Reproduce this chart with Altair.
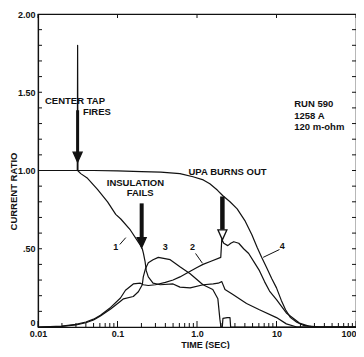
import altair as alt
import pandas as pd

# ---------------- data ----------------
C4_T = [0.01, 0.0312, 0.0315, 0.0318, 0.05, 0.1, 0.2, 0.35, 0.61, 0.89, 1.2, 1.45, 1.8, 2.1, 2.6, 3.2,
        4.0, 4.9, 5.7, 6.5, 7.5, 8.7, 10, 11.5, 13, 15, 18, 22, 30, 100]
C4_V = [1.0, 1.0, 1.80, 1.0, 1.0, 0.997, 0.993, 0.99, 0.98, 0.96, 0.94, 0.915, 0.875, 0.84, 0.80, 0.755,
        0.68, 0.59, 0.51, 0.445, 0.38, 0.31, 0.25, 0.17, 0.11, 0.06, 0.03, 0.01, 0.0, 0.0]

C1_T = [0.0315, 0.0345, 0.042, 0.056, 0.075, 0.095, 0.11, 0.145, 0.19, 0.205, 0.212, 0.222, 0.23, 0.244,
        0.28, 0.345, 0.5, 0.61, 0.82, 1.2, 1.6, 1.85, 2.05, 2.25, 2.8, 4.2, 6.1, 10, 13.3, 18, 100]
C1_V = [1.0, 0.98, 0.95, 0.88, 0.80, 0.72, 0.69, 0.62, 0.53, 0.50, 0.47, 0.42, 0.36, 0.32,
        0.28, 0.27, 0.275, 0.255, 0.25, 0.27, 0.275, 0.28, 0.29, 0.24, 0.21, 0.15, 0.11, 0.06, 0.02, 0.0, 0.0]

C3_T = [0.01, 0.02, 0.03, 0.04, 0.05, 0.061, 0.082, 0.109, 0.119, 0.158, 0.183, 0.205, 0.211, 0.224, 0.244,
        0.28, 0.326, 0.46, 0.61, 0.82, 1.19, 1.58, 1.83, 1.94, 2.0, 2.08, 2.12, 2.4, 2.6, 2.65, 100]
C3_V = [0.0, 0.004, 0.013, 0.027, 0.045, 0.07, 0.115, 0.165, 0.18, 0.195, 0.225, 0.27, 0.32, 0.37, 0.41,
        0.43, 0.445, 0.43, 0.385, 0.34, 0.27, 0.24, 0.18, 0.05, 0.0, 0.0, 0.055, 0.06, 0.06, 0.0, 0.0]

C2_T = [0.01, 0.02, 0.03, 0.04, 0.05, 0.061, 0.082, 0.109, 0.126, 0.158, 0.194, 0.211, 0.244, 0.3, 0.4, 0.5,
        0.61, 0.75, 1.0, 1.19, 1.5, 1.99, 2.05, 2.17, 2.44, 2.66, 2.9, 3.35, 3.86, 4.47, 5.3, 6.1, 7.07,
        8.17, 10, 13.3, 19.4, 26, 35, 100]
C2_V = [0.0, 0.005, 0.017, 0.032, 0.05, 0.075, 0.125, 0.185, 0.235, 0.275, 0.28, 0.27, 0.265, 0.27, 0.285, 0.30,
        0.32, 0.345, 0.38, 0.40, 0.42, 0.445, 0.56, 0.535, 0.52, 0.535, 0.545, 0.535, 0.50, 0.47, 0.41, 0.36, 0.29,
        0.23, 0.175, 0.09, 0.025, 0.005, 0.0, 0.0]

X_TICKS = [0.01, 0.1, 1, 10, 100]
X_TICK_LABELS = ["0.01", "0.1", "1.0", "10", "100"]
Y_TICKS = [0, 0.5, 1.0, 1.5, 2.0]
Y_TICK_LABELS = ["0", ".50", "1.00", "1.50", "2.00"]
X_MINOR = [k * 10.0 ** e for e in range(-2, 2) for k in range(2, 10)]
Y_MINOR = [i / 10 for i in range(1, 20)]

# annotations (left-aligned texts)
NOTE_TEXT = ["CENTER TAP", "FIRES", "INSULATION", "FAILS", "UPA BURNS OUT", "RUN 590", "1258 A", "120 m-ohm"]
NOTE_T = [0.01224, 0.0367, 0.0733, 0.1306, 0.782, 16.7, 16.7, 16.7]
NOTE_V = [1.442, 1.373, 0.922, 0.859, 0.9875, 1.426, 1.351, 1.276]

# curve labels (centered)
LBL_TEXT = ["1", "3", "2", "4"]
LBL_T = [0.095, 0.40, 0.878, 11.8]
LBL_V = [0.508, 0.508, 0.514, 0.52]

# leader lines
LEAD_ID = ["1", "1", "2", "2", "4", "4"]
LEAD_T = [0.1068, 0.1271, 0.959, 1.17, 10.9, 6.8]
LEAD_V = [0.527, 0.571, 0.47, 0.4075, 0.495, 0.445]

# arrows
ARROW_T = [0.0315, 0.2014, 2.087]
ARROW_TOP = [1.385, 0.79, 0.834]
ARROW_END = [1.085, 0.539, 0.621]
ARROW_HEAD = [1.085, 0.539, 0.589]
ARROW_W = [3.0, 4.0, 4.5]
ARROW_FILL = ["#111", "#111", "white"]

# ---------------- tables ----------------
rows = []
for name, ts, vs in [("4", C4_T, C4_V), ("1", C1_T, C1_V), ("3", C3_T, C3_V), ("2", C2_T, C2_V)]:
    for i, (t, v) in enumerate(zip(ts, vs)):
        rows.append({"curve": name, "t": t, "v": v, "i": i})
curves = pd.DataFrame(rows)
notes = pd.DataFrame({"t": NOTE_T, "v": NOTE_V, "text": NOTE_TEXT})
lbls = pd.DataFrame({"t": LBL_T, "v": LBL_V, "text": LBL_TEXT})
leads = pd.DataFrame({"id": LEAD_ID, "t": LEAD_T, "v": LEAD_V, "i": list(range(len(LEAD_ID)))})
arrows = pd.DataFrame({"t": ARROW_T, "top": ARROW_TOP, "end": ARROW_END, "head": ARROW_HEAD,
                       "w": ARROW_W, "fill": ARROW_FILL})
xminor = pd.DataFrame({"t": X_MINOR})
xmajor = pd.DataFrame({"t": X_TICKS})
yminor = pd.DataFrame({"v": Y_MINOR})

W, H = 318, 313
FONT = "Liberation Sans"
INK = "#111"
xs = alt.Scale(type="log", domain=[0.01, 100])
ys = alt.Scale(domain=[0, 2])


def label_expr(vals, labels):
    expr = "''"
    for v, l in zip(vals, labels):
        expr = f"datum.value == {v} ? '{l}' : ({expr})"
    return expr


xaxis = alt.Axis(values=X_TICKS, labelExpr=label_expr(X_TICKS, X_TICK_LABELS), title="TIME  (SEC)",
                 ticks=False, tickSize=0, grid=False, domainColor=INK, domainWidth=1.2,
                 labelFont=FONT, labelFontSize=9, labelFontWeight="bold", labelColor=INK, labelPadding=2,
                 labelFlush=False, labelOverlap=False,
                 labelAlign=alt.expr(f"datum.value == {X_TICKS[-1]} ? 'right' : 'center'"),
                 titleFont=FONT, titleFontSize=9, titleFontWeight="bold", titleColor=INK,
                 titleX=167, titleY=17.5, titleBaseline="middle")
yaxis = alt.Axis(values=Y_TICKS, labelExpr=label_expr(Y_TICKS, Y_TICK_LABELS), title="CURRENT RATIO",
                 ticks=False, tickSize=0, grid=False, domainColor=INK, domainWidth=1.2,
                 labelFont=FONT, labelFontSize=9, labelFontWeight="bold", labelColor=INK, labelPadding=3,
                 labelFlush=False, labelOverlap=False,
                 labelBaseline=alt.expr(f"datum.value == {Y_TICKS[0]} ? 'bottom' : 'middle'"),
                 titleFont=FONT, titleFontSize=9.5, titleFontWeight="bold", titleColor=INK,
                 titleX=-25, titleY=177, titleBaseline="middle", titleAlign="center")

lines = alt.Chart(curves).mark_line(color=INK, strokeWidth=1.2, strokeJoin="round").encode(
    x=alt.X("t:Q", scale=xs, axis=xaxis),
    y=alt.Y("v:Q", scale=ys, axis=yaxis),
    detail="curve:N",
    order="i:Q",
)

leaders = alt.Chart(leads).mark_line(color=INK, strokeWidth=1).encode(
    x=alt.X("t:Q", scale=xs), y=alt.Y("v:Q", scale=ys), detail="id:N", order="i:Q")

xt_minor = alt.Chart(xminor).mark_rule(color=INK, strokeWidth=1).encode(
    x=alt.X("t:Q", scale=xs), y=alt.value(H), y2=alt.value(H - 4))
xt_major = alt.Chart(xmajor).mark_rule(color=INK, strokeWidth=1).encode(
    x=alt.X("t:Q", scale=xs), y=alt.value(H), y2=alt.value(H - 6))
xt_top = alt.Chart(xmajor).mark_rule(color=INK, strokeWidth=1).encode(
    x=alt.X("t:Q", scale=xs), y=alt.value(0), y2=alt.value(4))
yt_left = alt.Chart(yminor).mark_rule(color=INK, strokeWidth=1).encode(
    y=alt.Y("v:Q", scale=ys), x=alt.value(0), x2=alt.value(4))
yt_right = alt.Chart(yminor).mark_rule(color=INK, strokeWidth=1).encode(
    y=alt.Y("v:Q", scale=ys), x=alt.value(W - 4), x2=alt.value(W))

shafts = alt.Chart(arrows).mark_rule(color=INK, strokeCap="butt").encode(
    x=alt.X("t:Q", scale=xs), y=alt.Y("top:Q", scale=ys), y2="end:Q",
    strokeWidth=alt.StrokeWidth("w:Q", scale=None))
heads = alt.Chart(arrows).mark_point(shape="M-0.9,-1L0.9,-1L0,1Z", size=100, filled=True,
                                     stroke=INK, strokeWidth=1.3, opacity=1).encode(
    x=alt.X("t:Q", scale=xs), y=alt.Y("head:Q", scale=ys),
    fill=alt.Fill("fill:N", scale=None))

note_text = alt.Chart(notes).mark_text(align="left", baseline="middle", font=FONT, fontSize=9.5,
                                       fontWeight="bold", color=INK).encode(
    x=alt.X("t:Q", scale=xs), y=alt.Y("v:Q", scale=ys), text="text:N")
lbl_text = alt.Chart(lbls).mark_text(align="center", baseline="middle", font=FONT, fontSize=9,
                                     fontWeight="bold", color=INK).encode(
    x=alt.X("t:Q", scale=xs), y=alt.Y("v:Q", scale=ys), text="text:N")

chart = alt.layer(
    xt_minor, xt_major, xt_top, yt_left, yt_right, lines, leaders, shafts, heads, note_text, lbl_text
).properties(
    width=W, height=H,
    autosize=alt.AutoSizeParams(type="none"),
    padding={"left": 30, "top": 6, "right": 0, "bottom": 22},
    background="white",
).configure_view(stroke=INK, strokeWidth=1.2)

chart.save("out.html", embed_options={"renderer": "svg", "actions": False})
